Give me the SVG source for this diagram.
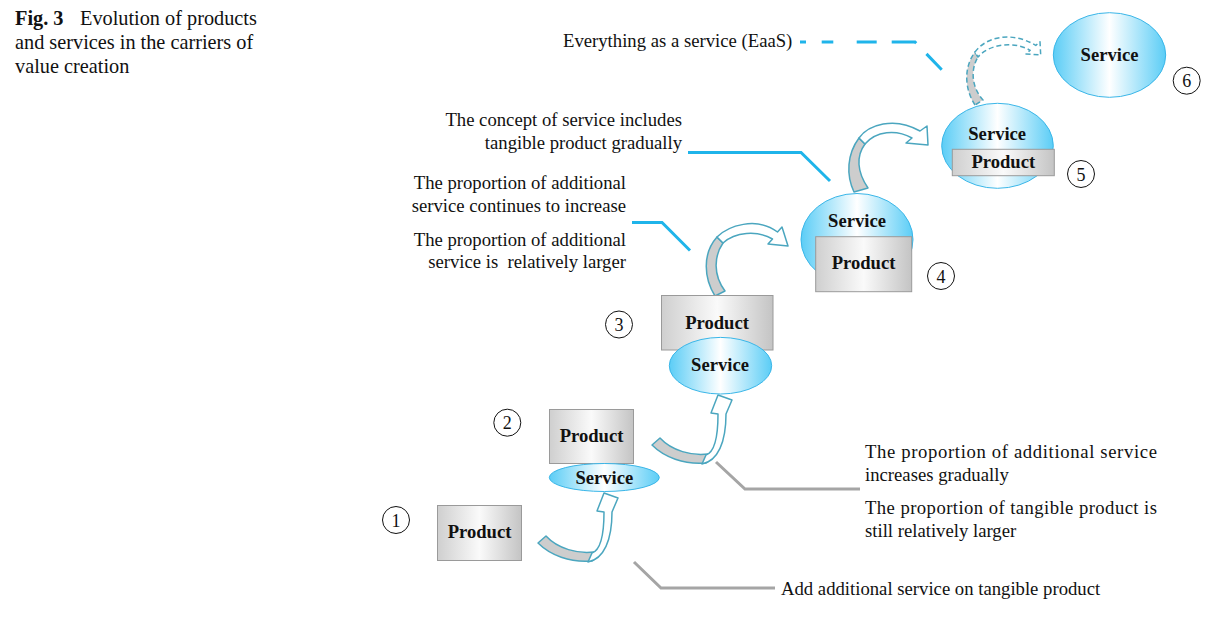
<svg xmlns="http://www.w3.org/2000/svg" width="1229" height="622" viewBox="0 0 1229 622">
<defs>
<linearGradient id="gSvc" x1="0" y1="0" x2="1" y2="0">
<stop offset="0" stop-color="#5bcdf6"/>
<stop offset="0.5" stop-color="#ffffff"/>
<stop offset="1" stop-color="#5bcdf6"/>
</linearGradient>
<linearGradient id="gPrd" x1="0" y1="0" x2="1" y2="0">
<stop offset="0" stop-color="#cfcfcf"/>
<stop offset="0.5" stop-color="#fafafa"/>
<stop offset="1" stop-color="#c4c4c4"/>
</linearGradient>
</defs>
<style>
.t{font-family:"Liberation Serif","Times New Roman",serif;font-size:18.7px;fill:#111}
.te{text-anchor:end}
.cap{font-family:"Liberation Serif","Times New Roman",serif;font-size:20.3px;fill:#111}
.nl{font-family:"Liberation Serif","Times New Roman",serif;font-size:18.6px;font-weight:bold;fill:#111;text-anchor:middle}
.svc{fill:url(#gSvc);stroke:#3ab6e8;stroke-width:1}
.prd{fill:url(#gPrd);stroke:#9a9a9a;stroke-width:1}
.num{fill:none;stroke:#111;stroke-width:1}
.numt{font-family:"Liberation Serif","Times New Roman",serif;font-size:18px;text-anchor:middle;fill:#111}
.cy{fill:none;stroke:#1fb4ea;stroke-width:3}
.gy{fill:none;stroke:#a5a5a5;stroke-width:3}
.at{fill:#cdcdcd;stroke:#4ba6bf;stroke-width:1.5;stroke-linejoin:round}
.ah{fill:#ffffff;stroke:#4ba6bf;stroke-width:1.5;stroke-linejoin:round}
.dash{stroke-dasharray:5 3}
</style>
<rect width="1229" height="622" fill="#ffffff"/>

<g id="caption">
<text class="cap" x="15" y="25"><tspan font-weight="bold">Fig. 3</tspan><tspan x="80">Evolution of products</tspan></text>
<text class="cap" x="15" y="49">and services in the carriers of</text>
<text class="cap" x="15" y="73">value creation</text>
</g>

<g id="connectors">
<path class="cy" d="M800,42 H915 L942,70" stroke-dasharray="6 15.7 11.6 23.4 20 15 25 14.8 22 20"/>
<path class="cy" d="M688,152.5 H801 L830,181"/>
<path class="cy" d="M632,222.5 H662 L690,250.5"/>
<path class="gy" d="M716,462 L745,489 H860"/>
<path class="gy" d="M634,562 L661,588 H775"/>
<g id="arrow1">
<path class="at" d="M538,543 C550,555 570,563 592,561 L594,552 C578,554 558,549 546,536 Z"/>
<path class="ah" d="M588,562 C604,559 612,540 612,512 L618,498 L604,493 L597,511 L604,512 C604,535 601,550 592,553 Z"/>
</g>
<g id="arrow2" transform="translate(114,-98)">
<path class="at" d="M538,543 C550,555 570,563 592,561 L594,552 C578,554 558,549 546,536 Z"/>
<path class="ah" d="M588,562 C604,559 612,540 612,512 L618,498 L604,493 L597,511 L604,512 C604,535 601,550 592,553 Z"/>
</g>
<g id="arrow3">
<path class="at" d="M715,296 C704,278 702,254 717,237 L723,243 C714,256 713,275 725,291 Z"/>
<path class="ah" d="M717,237 C728,226 756,216 777.5,232 L782,227 L788,246 L768,244 L772.5,239 C757,230 735,232 723,243 Z"/>
</g>
<g id="arrow4">
<path class="at" d="M854,192 C846,175 847,154 859,138 L865,144 C856,156 857,172 868,188 Z"/>
<path class="ah" d="M859,138 C868,125 894,116 920,131 L927,126 L928,145 L906,143 L912,138 C896,129 876,131 865,144 Z"/>
</g>
<g id="arrow5">
<path class="at dash" d="M975,105 C965,90 963,68 975,52 L978,57 C970,70 972,88 983,100 Z"/>
<path class="ah dash" d="M975,52 C985,38 1010,30 1035.8,45.4 L1040,41.7 L1040.7,55 L1026,54 L1030.2,50.3 C1012,40 988,45 978,57 Z"/>
</g>
</g>

<g id="labels">
<text class="t" x="563" y="47">Everything as a service (EaaS)</text>
<text class="t te" x="682" y="126">The concept of service includes</text>
<text class="t te" x="682" y="149">tangible product gradually</text>
<text class="t te" x="626" y="189">The proportion of additional</text>
<text class="t te" x="626" y="212">service continues to increase</text>
<text class="t te" x="626" y="246">The proportion of additional</text>
<text class="t te" x="626" y="268" xml:space="preserve">service is  relatively larger</text>
<text class="t" x="865" y="458" textLength="292" lengthAdjust="spacing">The proportion of additional service</text>
<text class="t" x="865" y="481">increases gradually</text>
<text class="t" x="865" y="514" textLength="292" lengthAdjust="spacing">The proportion of tangible product is</text>
<text class="t" x="865" y="537">still relatively larger</text>
<text class="t" x="781" y="595">Add additional service on tangible product</text>
</g>

<g id="node1">
<rect class="prd" x="437.5" y="505.5" width="84" height="55"/>
<text class="nl" x="479.5" y="538">Product</text>
<circle class="num" cx="396" cy="520" r="13.5"/>
<text class="numt" x="396" y="526.5">1</text>
</g>

<g id="node2">
<rect class="prd" x="549.5" y="409.5" width="84" height="54"/>
<text class="nl" x="591.5" y="442">Product</text>
<ellipse class="svc" cx="604.3" cy="477.5" rx="55" ry="14"/>
<text class="nl" x="604.3" y="483.5">Service</text>
<circle class="num" cx="507.3" cy="422.7" r="13.5"/>
<text class="numt" x="507.3" y="429.2">2</text>
</g>

<g id="node3">
<rect class="prd" x="661.5" y="295.5" width="111.5" height="54.5"/>
<text class="nl" x="717" y="329.3">Product</text>
<ellipse class="svc" cx="720.5" cy="365.7" rx="51.2" ry="28.3"/>
<text class="nl" x="720" y="370.7">Service</text>
<circle class="num" cx="619" cy="324.5" r="13.5"/>
<text class="numt" x="619" y="331">3</text>
</g>

<g id="node4">
<ellipse class="svc" cx="857" cy="239.5" rx="56" ry="46"/>
<text class="nl" x="857" y="226.7">Service</text>
<rect class="prd" x="815.7" y="236.7" width="96" height="55"/>
<text class="nl" x="863.5" y="269.3">Product</text>
<circle class="num" cx="941" cy="276" r="13.5"/>
<text class="numt" x="941" y="282.5">4</text>
</g>

<g id="node5">
<ellipse class="svc" cx="997.5" cy="145.8" rx="55.8" ry="42.5"/>
<text class="nl" x="997.2" y="140">Service</text>
<rect class="prd" x="952.3" y="149.3" width="102" height="26.4"/>
<text class="nl" x="1003.3" y="167.7">Product</text>
<circle class="num" cx="1081" cy="174" r="13.5"/>
<text class="numt" x="1081" y="180.5">5</text>
</g>

<g id="node6">
<ellipse class="svc" cx="1109.5" cy="55" rx="56.2" ry="42.3"/>
<text class="nl" x="1109.5" y="60.7">Service</text>
<circle class="num" cx="1186.7" cy="80.7" r="13.5"/>
<text class="numt" x="1186.7" y="87.2">6</text>
</g>
</svg>
